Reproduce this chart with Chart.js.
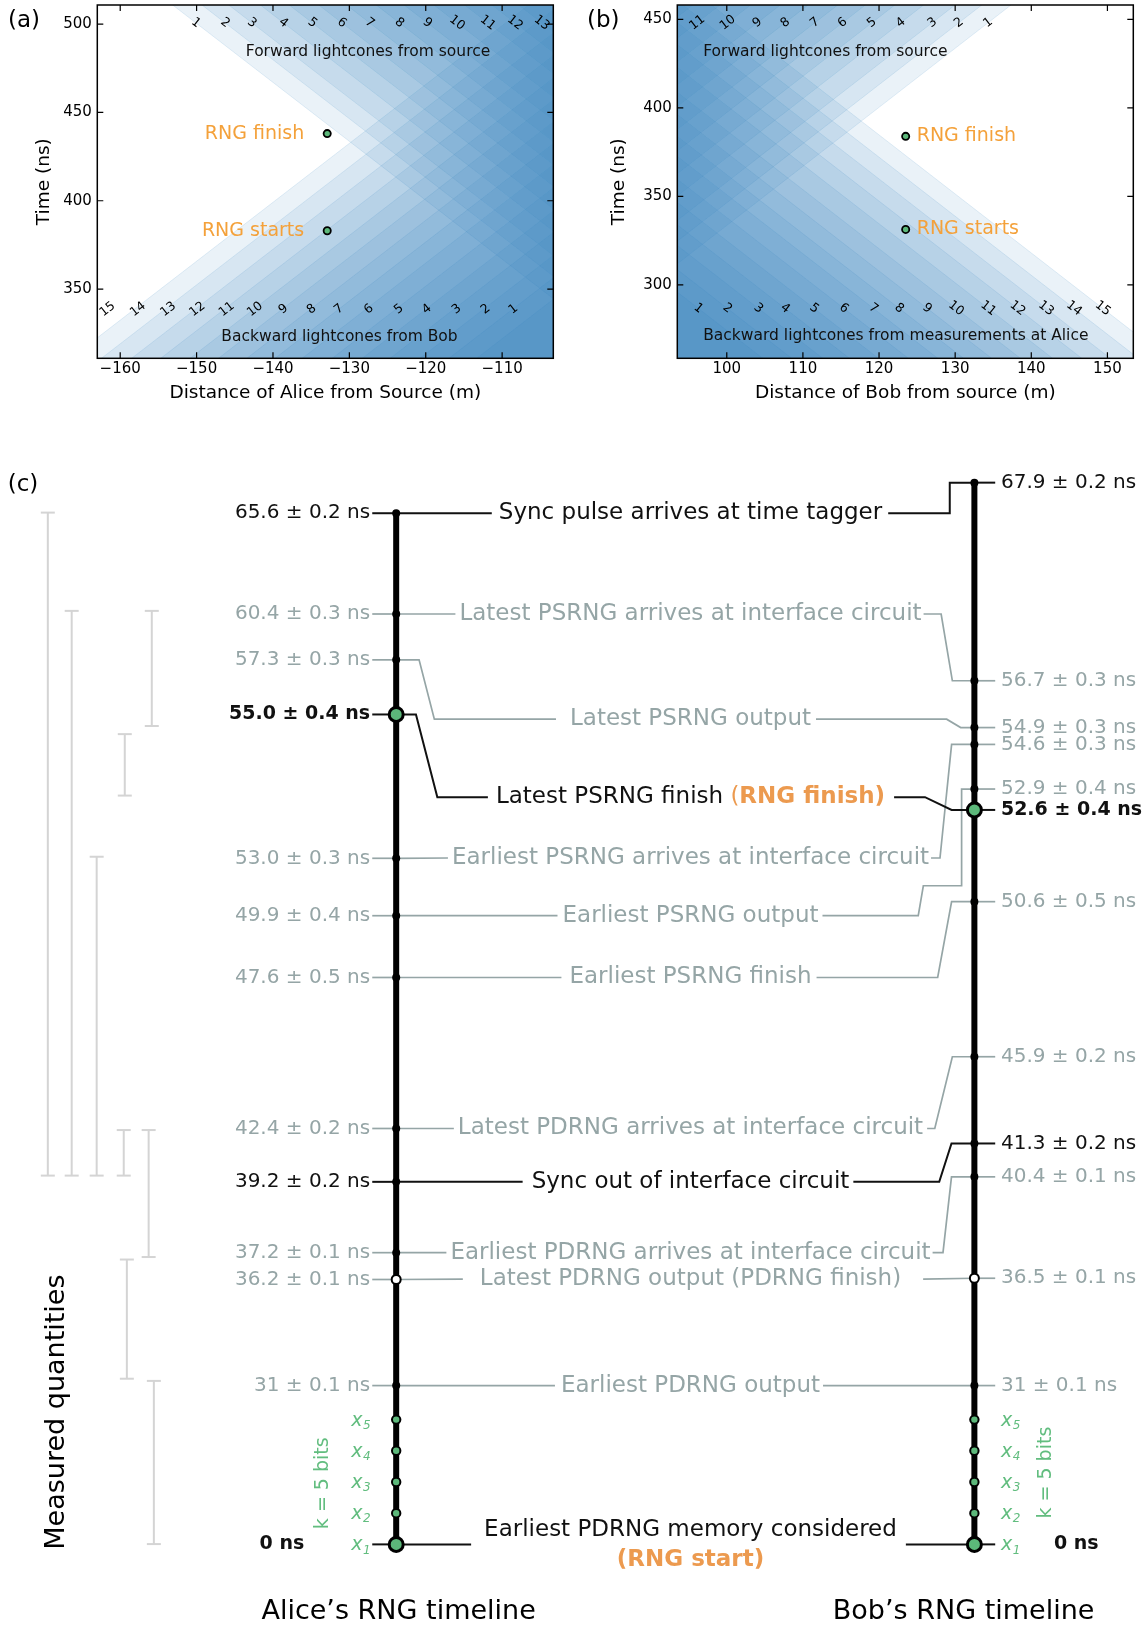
<!DOCTYPE html>
<html lang="en">
<head>
<meta charset="UTF-8">
<title>RNG lightcones and timelines</title>
<style>
  html, body { margin: 0; padding: 0; background: #fff; }
  body { width: 1146px; height: 1630px; position: relative; overflow: hidden; }
  canvas { position: absolute; display: block; }
</style>
<script src="https://cdn.jsdelivr.net/npm/chart.js"></script>
</head>
<body>
<canvas id="coneA" width="570" height="410" style="left:0;top:0"></canvas>
<canvas id="coneB" width="576" height="410" style="left:570px;top:0"></canvas>
<canvas id="timeline" width="1146" height="1190" style="left:0;top:440px"></canvas>
<script>
// ---------- (a) / (b): lightcone panels ----------
const C_NS_PER_M = 3.3356;   // light travel time, ns per metre

// apex times (ns, referred to the source position)
const sourcePulseTimes = [0, 12.8, 24.5, 38.3, 50.9, 63.8, 75.9, 88.9, 101.1, 114.1, 127.5, 139.4, 151.1];
const bobConeApex = [688.8, 700.9, 713.6, 726.6, 738.8, 751.9, 765.0, 776.9, 789.2, 801.6, 814.0, 826.8, 839.5, 852.7, 866.1];
const aliceConeApex = [607.8, 620.5, 634.1, 645.8, 658.5, 671.6, 684.5, 695.8, 708.1, 720.7, 734.8, 747.6, 760.1, 772.4, 785.0];

const rngEventNames = ['RNG starts', 'RNG finish'];
const aliceRngPos = -132.9;
const aliceRngTimes = [383.0, 438.0];
const bobRngPos = 123.5;
const bobRngTimes = [331.3, 383.9];

const aliceDistTicks = [-160, -150, -140, -130, -120, -110];
const aliceTimeTicks = [350, 400, 450, 500];
const bobDistTicks = [100, 110, 120, 130, 140, 150];
const bobTimeTicks = [300, 350, 400, 450];

// ---------- (c): RNG timelines ----------
const aliceStamps = ['65.6 ± 0.2 ns', '60.4 ± 0.3 ns', '57.3 ± 0.3 ns', '55.0 ± 0.4 ns', '53.0 ± 0.3 ns',
  '49.9 ± 0.4 ns', '47.6 ± 0.5 ns', '42.4 ± 0.2 ns', '39.2 ± 0.2 ns', '37.2 ± 0.1 ns', '36.2 ± 0.1 ns',
  '31 ± 0.1 ns', '0 ns'];
const bobStamps = ['67.9 ± 0.2 ns', '56.7 ± 0.3 ns', '54.9 ± 0.3 ns', '54.6 ± 0.3 ns', '52.9 ± 0.4 ns',
  '52.6 ± 0.4 ns', '50.6 ± 0.5 ns', '45.9 ± 0.2 ns', '41.3 ± 0.2 ns', '40.4 ± 0.1 ns', '36.5 ± 0.1 ns',
  '31 ± 0.1 ns', '0 ns'];
const stepNames = ['Sync pulse arrives at time tagger', 'Latest PSRNG arrives at interface circuit',
  'Latest PSRNG output', 'Latest PSRNG finish (RNG finish)', 'Earliest PSRNG arrives at interface circuit',
  'Earliest PSRNG output', 'Earliest PSRNG finish', 'Latest PDRNG arrives at interface circuit',
  'Sync out of interface circuit', 'Earliest PDRNG arrives at interface circuit',
  'Latest PDRNG output (PDRNG finish)', 'Earliest PDRNG output', 'Earliest PDRNG memory considered'];
const stepNote = '(RNG start)';
const stepAlice = [0, 1, 2, 3, 4, 5, 6, 7, 8, 9, 10, 11, 12];   // event index on each timeline
const stepBob = [0, 1, 2, 5, 3, 4, 6, 7, 8, 9, 10, 11, 12];
const bitSubs = ['1', '2', '3', '4', '5'];
const bitsLabel = 'k = 5 bits';

// layout of the schematic (vertical slots, not times)
const aliceRow = [33.05, 29.82, 28.35, 26.6, 21.99, 20.15, 18.17, 13.33, 11.62, 9.35, 8.49, 5.09, 0];
const bobRow = [34.03, 27.68, 26.18, 25.64, 24.21, 23.54, 20.6, 15.63, 12.85, 11.78, 8.53, 5.09, 0];
const bitRow = [0, 1, 2, 3, 4];
const stepRow = [33.05, 29.82, 26.45, 23.95, 22.0, 20.15, 18.17, 13.33, 11.62, 9.35, 8.5, 5.09, 0];
const stepShift = [0, 0, 0, 0, 0, 0, 0, 0, 0, 0, 0, 0, 0.46];
const stepLeftBends = [[], [], [[0.0396, 28.35], [0.066, 26.45]], [[0.0342, 26.6], [0.0712, 23.95]],
  [], [], [], [], [], [], [], [], []];
const stepRightBends = [
  [[0.9574, 33.05], [0.9574, 34.03]],
  [[0.9425, 29.82], [0.9619, 27.68]],
  [[0.952, 26.45], [0.9763, 26.18]],
  [[0.9146, 23.95], [0.9606, 23.54]],
  [[0.9405, 22.0], [0.9606, 25.64]],
  [[0.9029, 20.15], [0.9117, 21.11], [0.9779, 21.11], [0.9779, 24.21]],
  [[0.9365, 18.17], [0.9606, 20.6]],
  [[0.9315, 13.33], [0.9619, 15.63]],
  [[0.9392, 11.62], [0.9604, 12.85]],
  [[0.9457, 9.35], [0.9604, 11.78]],
  [], [], []];
const stepGaps = [[7, 6], [4, 2], [14, 5], [8, 9], [4, 2], [5, 4], [8, 5], [4, 4], [9, 4], [4, 2], [17, 22], [6, 3], [13, 9]];
const barU = [-0.6025, -0.5612, -0.518, -0.4712, -0.4227, -0.4694, -0.4281, -0.4658, -0.4191];
const barTop = [33.07, 29.92, 22.04, 13.28, 29.92, 25.97, 13.28, 9.13, 5.24];
const barBottom = [11.82, 11.82, 11.82, 11.82, 26.23, 24.0, 9.21, 5.31, 0.01];

// styles
const FONT = '"DejaVu Sans", sans-serif';
const INK = '#111', GRAY = '#95a5a6', GREEN = '#5cb87a', GREEN_TXT = '#62bd7f';
const ORANGE = '#f4a13a', ORANGE_C = '#ec9a4f', BAR = '#d4d4d4';
const CONE_FILL = 'rgba(49,130,189,0.10)', CONE_EDGE = 'rgba(49,130,189,0.16)';
const aliceTone = 'kggbggggkgggb', bobTone = 'kggggbggkgggb', stepTone = 'kggkggggkgggk';
const aliceDot = 'sssGsssssswsG', bobDot = 'sssssGsssswsG';

Chart.defaults.font.family = FONT;
Chart.defaults.color = '#000';
Chart.defaults.animation = false;
Chart.defaults.events = [];
Chart.defaults.plugins.legend.display = false;
Chart.defaults.plugins.tooltip.enabled = false;

function font(size, bold, italic) {
  return (italic ? 'italic ' : '') + (bold ? 'bold ' : '') + size + 'px ' + FONT;
}

// ---------- lightcone panels ----------
function conePanel(p) {
  const [xmin, xmax] = p.xRange;
  const cone = (t0, dir) => ({
    data: [xmin, xmax].map(x => ({x, y: t0 + dir * Math.abs(x) * C_NS_PER_M})),
    borderColor: CONE_EDGE, borderWidth: 0.8, backgroundColor: CONE_FILL,
    pointRadius: 0, fill: dir > 0 ? 'end' : 'start', order: 2
  });
  const datasets = [
    ...p.forward.map(t => cone(t, 1)),
    ...p.backward.map(t => cone(t, -1)),
    {
      data: p.rngTimes.map(t => ({x: p.rngPos, y: t})), showLine: false,
      pointRadius: 3.6, pointBackgroundColor: GREEN, pointBorderColor: '#000', pointBorderWidth: 1.8, order: 0
    }
  ];

  const decor = {
    id: 'decor',
    afterDatasetsDraw(chart) {
      const {ctx, chartArea: a, scales: {x, y}} = chart;
      const pxM = (a.right - a.left) / (xmax - xmin);
      const pxNs = (a.bottom - a.top) / (p.yRange[1] - p.yRange[0]);
      const theta = Math.atan(C_NS_PER_M * pxNs / pxM);
      ctx.save();
      ctx.fillStyle = '#000';
      ctx.font = font(12.5);
      ctx.textAlign = 'center';
      ctx.textBaseline = 'middle';
      const put = (txt, xv, tv, rot) => {
        if (xv < xmin + 0.6 || xv > xmax - 0.6) return;
        ctx.save();
        ctx.translate(x.getPixelForValue(xv), y.getPixelForValue(tv));
        ctx.rotate(rot);
        ctx.fillText(txt, 0, 0);
        ctx.restore();
      };
      p.forward.forEach((t0, i) =>
        put(String(i + 1), p.side * (p.fwdRow - t0) / C_NS_PER_M, p.fwdRow, -p.side * theta));
      p.backward.forEach((t0, i) =>
        put(String(i + 1), p.side * (t0 - p.backRow) / C_NS_PER_M + p.backShift, p.backRow, p.side * theta));

      ctx.font = font(15.5);
      ctx.fillStyle = '#111';
      ctx.textAlign = p.fwdAt[2];
      ctx.fillText(p.fwdText, x.getPixelForValue(p.fwdAt[0]), y.getPixelForValue(p.fwdAt[1]));
      ctx.textAlign = p.backAt[2];
      ctx.fillText(p.backText, x.getPixelForValue(p.backAt[0]), y.getPixelForValue(p.backAt[1]));

      ctx.font = font(19);
      ctx.fillStyle = ORANGE;
      ctx.textAlign = p.rngDx < 0 ? 'right' : 'left';
      p.rngTimes.forEach((t, i) =>
        ctx.fillText(rngEventNames[i], x.getPixelForValue(p.rngPos) + p.rngDx, y.getPixelForValue(t)));

      // frame with inward ticks
      ctx.strokeStyle = '#000';
      ctx.lineWidth = 1.5;
      ctx.strokeRect(a.left, a.top, a.right - a.left, a.bottom - a.top);
      ctx.lineWidth = 1.2;
      ctx.beginPath();
      p.xTicks.forEach(v => {
        const px = x.getPixelForValue(v);
        ctx.moveTo(px, a.bottom); ctx.lineTo(px, a.bottom - 6);
        ctx.moveTo(px, a.top); ctx.lineTo(px, a.top + 6);
      });
      p.yTicks.forEach(v => {
        const py = y.getPixelForValue(v);
        ctx.moveTo(a.left, py); ctx.lineTo(a.left + 6, py);
        ctx.moveTo(a.right, py); ctx.lineTo(a.right - 6, py);
      });
      ctx.stroke();

      ctx.font = font(23);
      ctx.fillStyle = '#000';
      ctx.textAlign = 'left';
      ctx.fillText(p.tag, p.tagX, 21);
      ctx.restore();
    }
  };

  const noPad = s => { s.paddingTop = 0; s.paddingBottom = 0; s.paddingLeft = 0; s.paddingRight = 0; };

  return new Chart(document.getElementById(p.id), {
    type: 'line',
    data: {datasets},
    plugins: [decor],
    options: {
      responsive: false,
      layout: {autoPadding: false, padding: {left: 0, top: 5, right: p.padRight, bottom: 0}},
      scales: {
        x: {
          type: 'linear', min: xmin, max: xmax,
          grid: {display: false, drawTicks: false}, border: {display: false},
          afterBuildTicks: s => { s.ticks = p.xTicks.map(value => ({value})); },
          afterFit: s => { s.height = 51.7; noPad(s); },
          ticks: {font: {size: 15}, padding: 2, callback: v => String(v).replace('-', '\u2212')},
          title: {display: true, text: p.xTitle, font: {size: 18.5}, padding: {top: 0, bottom: 6}}
        },
        y: {
          type: 'linear', min: p.yRange[0], max: p.yRange[1],
          grid: {display: false, drawTicks: false}, border: {display: false},
          afterBuildTicks: s => { s.ticks = p.yTicks.map(value => ({value})); },
          afterFit: s => { s.width = p.axisWidth; noPad(s); },
          ticks: {font: {size: 15}, padding: 5.5},
          title: {display: true, text: 'Time (ns)', font: {size: 18.5}, padding: {top: p.yTitlePad, bottom: 0}}
        }
      }
    }
  });
}

conePanel({
  id: 'coneA', tag: '(a)', tagX: 8, side: -1,
  xRange: [-163, -103.3], yRange: [310.8, 510.8],
  xTicks: aliceDistTicks, yTicks: aliceTimeTicks,
  xTitle: 'Distance of Alice from Source (m)',
  forward: sourcePulseTimes, backward: bobConeApex,
  rngPos: aliceRngPos, rngTimes: aliceRngTimes, rngDx: -23,
  fwdText: 'Forward lightcones from source', backText: 'Backward lightcones from Bob',
  fwdAt: [-127.56, 484.3, 'center'], backAt: [-131.29, 322.7, 'center'],
  fwdRow: 500.7, backRow: 338.5, backShift: -3.5,
  axisWidth: 97.3, padRight: 16.7, yTitlePad: 33
});

conePanel({
  id: 'coneB', tag: '(b)', tagX: 17, side: 1,
  xRange: [93.5, 153.4], yRange: [258.5, 458.1],
  xTicks: bobDistTicks, yTicks: bobTimeTicks,
  xTitle: 'Distance of Bob from source (m)',
  forward: sourcePulseTimes, backward: aliceConeApex,
  rngPos: bobRngPos, rngTimes: bobRngTimes, rngDx: 11,
  fwdText: 'Forward lightcones from source', backText: 'Backward lightcones from measurements at Alice',
  fwdAt: [96.9, 431.8, 'left'], backAt: [96.9, 270.9, 'left'],
  fwdRow: 448.1, backRow: 286.7, backShift: 0,
  axisWidth: 107.3, padRight: 12.7, yTitlePad: 38
});

// ---------- timelines ----------
const U_MIN = -0.6852, U_MAX = 1.2968, R_MIN = -2.744, R_MAX = 35.397;
const PX_PER_U = 1146 / (U_MAX - U_MIN);
const STEP_U = 0.509, STEP_SIZE = 23, STAMP_SIZE = 20, STAMP_BOLD = 19;
const meas = document.createElement('canvas').getContext('2d');

function stepParts(i) {
  const text = stepNames[i];
  const base = stepTone[i] === 'k' ? INK : GRAY;
  const k = text.indexOf('(RNG');
  if (k < 0) return [{s: text, color: base, bold: false}];
  return [{s: text.slice(0, k), color: base, bold: false},
          {s: '(', color: ORANGE_C, bold: false},
          {s: text.slice(k + 1), color: ORANGE_C, bold: true}];
}
function partsWidth(ctx, parts) {
  return parts.reduce((w, p) => { ctx.font = font(STEP_SIZE, p.bold); return w + ctx.measureText(p.s).width; }, 0);
}
function seg(points, color, width, order) {
  return {data: points.map(([x, y]) => ({x, y})), borderColor: color, borderWidth: width,
          pointRadius: 0, fill: false, order};
}
function dots(points, fill, r, bw, order) {
  return {data: points.map(([x, y]) => ({x, y})), showLine: false, pointRadius: r,
          pointBackgroundColor: fill, pointBorderColor: '#000', pointBorderWidth: bw, order};
}

const tl = [];
// measured-quantity brackets
barU.forEach((u, i) => tl.push({
  data: [{x: u, y: barTop[i]}, {x: u, y: barBottom[i]}], borderColor: BAR, borderWidth: 2,
  pointStyle: 'line', pointRadius: 7, pointBorderColor: BAR, pointBorderWidth: 2, order: 4
}));
// connectors from each step label to the two timelines
stepNames.forEach((name, i) => {
  const half = partsWidth(meas, stepParts(i)) / 2 / PX_PER_U;
  const uL = STEP_U - half - stepGaps[i][0] / PX_PER_U;
  const uR = STEP_U + half + stepGaps[i][1] / PX_PER_U;
  const color = stepTone[i] === 'k' ? INK : GRAY;
  const w = stepTone[i] === 'k' ? 2 : 1.7;
  tl.push(seg([[0, aliceRow[stepAlice[i]]], ...stepLeftBends[i], [uL, stepRow[i]]], color, w, 3));
  tl.push(seg([[uR, stepRow[i]], ...stepRightBends[i], [1, bobRow[stepBob[i]]]], color, w, 3));
});
// short leaders to the time stamps
aliceRow.forEach((r, i) => tl.push(seg([[-0.0414, r], [0, r]], aliceTone[i] === 'g' ? GRAY : INK, aliceTone[i] === 'g' ? 1.7 : 2, 3)));
bobRow.forEach((r, i) => tl.push(seg([[1, r], [1.036, r]], bobTone[i] === 'g' ? GRAY : INK, bobTone[i] === 'g' ? 1.7 : 2, 3)));
// the two timelines
tl.push(seg([[0, aliceRow[0]], [0, 0]], '#000', 6, 1));
tl.push(seg([[1, bobRow[0]], [1, 0]], '#000', 6, 1));
// events
const pick = (rows, kinds, kind, u) => rows.filter((r, i) => kinds[i] === kind).map(r => [u, r]);
tl.push(dots([...pick(aliceRow, aliceDot, 's', 0), ...pick(bobRow, bobDot, 's', 1)], '#000', 4, 0, 0));
tl.push(dots([...pick(aliceRow, aliceDot, 'w', 0), ...pick(bobRow, bobDot, 'w', 1)], '#fff', 4.5, 2, 0));
tl.push(dots(bitRow.slice(1).flatMap(r => [[0, r], [1, r]]), GREEN, 4.2, 2, 0));
tl.push(dots([...pick(aliceRow, aliceDot, 'G', 0), ...pick(bobRow, bobDot, 'G', 1)], GREEN, 7, 3, 0));

const timelineText = {
  id: 'timelineText',
  afterDatasetsDraw(chart) {
    const {ctx, scales: {x, y}} = chart;
    const X = u => x.getPixelForValue(u), Y = r => y.getPixelForValue(r);
    ctx.save();
    ctx.textBaseline = 'middle';

    // step labels
    stepNames.forEach((name, i) => {
      const parts = stepParts(i);
      let px = X(STEP_U) - partsWidth(ctx, parts) / 2;
      const py = Y(stepRow[i] + stepShift[i]);
      ctx.textAlign = 'left';
      parts.forEach(p => {
        ctx.font = font(STEP_SIZE, p.bold);
        ctx.fillStyle = p.color;
        ctx.fillText(p.s, px, py);
        px += ctx.measureText(p.s).width;
      });
    });
    ctx.font = font(STEP_SIZE, true);
    ctx.fillStyle = ORANGE_C;
    ctx.textAlign = 'center';
    ctx.fillText(stepNote, X(STEP_U), Y(stepRow[12] - 0.5));

    // time stamps
    const toneColor = t => t === 'g' ? GRAY : INK;
    const stampFont = t => t === 'b' ? font(STAMP_BOLD, true) : font(STAMP_SIZE);
    aliceStamps.forEach((s, i) => {
      const zero = s === '0 ns';
      ctx.font = stampFont(aliceTone[i]);
      ctx.fillStyle = toneColor(aliceTone[i]);
      ctx.textAlign = 'right';
      ctx.fillText(s, X(zero ? -0.159 : -0.045), Y(aliceRow[i]));
    });
    bobStamps.forEach((s, i) => {
      const zero = s === '0 ns';
      ctx.font = stampFont(bobTone[i]);
      ctx.fillStyle = toneColor(bobTone[i]);
      ctx.textAlign = 'left';
      ctx.fillText(s, X(zero ? 1.1377 : 1.0459), Y(bobRow[i]));
    });

    // memory bits
    ctx.fillStyle = GREEN_TXT;
    ctx.textAlign = 'left';
    bitRow.forEach((r, i) => {
      [-0.0777, 1.046].forEach(u => {
        ctx.font = font(19, false, true);
        const px = X(u), py = Y(r) + 1;
        ctx.fillText('x', px, py);
        const w = ctx.measureText('x').width;
        ctx.font = font(12, false, true);
        ctx.fillText(bitSubs[i], px + w + 0.5, py + 5);
      });
    });
    ctx.font = font(19);
    ctx.textAlign = 'center';
    [[-0.1263, 1.96], [1.1235, 2.3]].forEach(([u, r]) => {
      ctx.save();
      ctx.translate(X(u), Y(r));
      ctx.rotate(-Math.PI / 2);
      ctx.fillText(bitsLabel, 0, 0);
      ctx.restore();
    });

    // titles
    ctx.fillStyle = '#000';
    ctx.font = font(27);
    ctx.fillText('Alice\u2019s RNG timeline', X(0.0042), Y(-2.157));
    ctx.fillText('Bob\u2019s RNG timeline', X(0.9813), Y(-2.157));
    ctx.save();
    ctx.translate(X(-0.5866), Y(4.24));
    ctx.rotate(-Math.PI / 2);
    ctx.fillText('Measured quantities', 0, 0);
    ctx.restore();
    ctx.font = font(23);
    ctx.textAlign = 'left';
    ctx.fillText('(c)', X(-0.6719), Y(33.96));
    ctx.restore();
  }
};

new Chart(document.getElementById('timeline'), {
  type: 'line',
  data: {datasets: tl},
  plugins: [timelineText],
  options: {
    responsive: false,
    layout: {autoPadding: false, padding: 0},
    scales: {
      x: {type: 'linear', display: false, min: U_MIN, max: U_MAX},
      y: {type: 'linear', display: false, min: R_MIN, max: R_MAX}
    }
  }
});
</script>
</body>
</html>
